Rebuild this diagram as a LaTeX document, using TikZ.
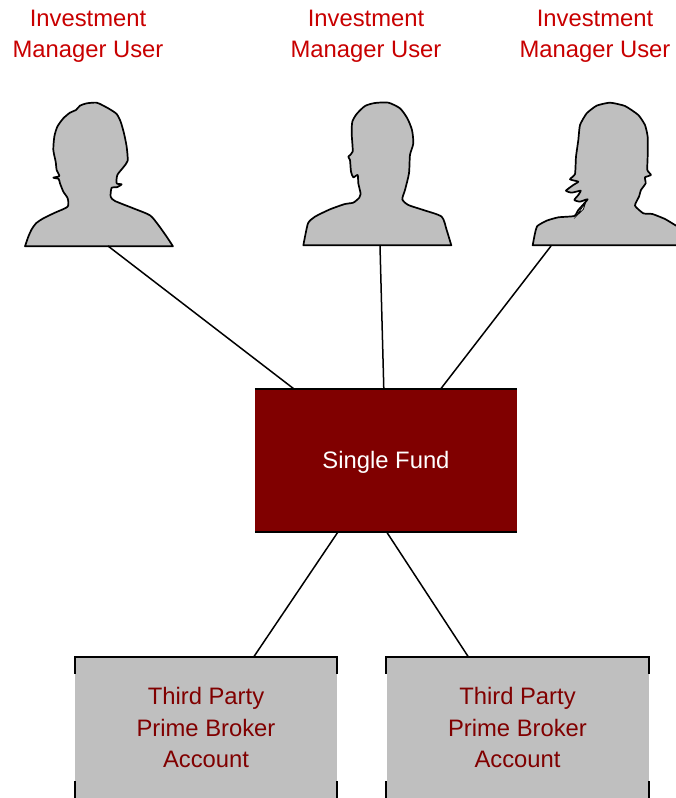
\documentclass[tikz,border=0pt]{standalone}
\usepackage{fontspec}
\setmainfont{Liberation Sans}
\usetikzlibrary{calc}
\definecolor{fundred}{HTML}{800000}
\definecolor{userred}{HTML}{C80000}
\definecolor{boxgray}{HTML}{BFBFBF}
\tikzset{
	person/.style={draw=black, fill=boxgray, line width=1.7pt, line join=round},
	link/.style={draw=black, line width=1.5pt},
	edge/.style={draw=black, line width=1.8pt},
	usertext/.style={text=userred, align=center, font=\fontsize{23.8}{31.5}\selectfont},
	fundbox/.style={fill=fundred, text=white, minimum width=262pt, minimum height=143pt, inner sep=0pt, font=\fontsize{23.8}{31.5}\selectfont},
	accountbox/.style={fill=boxgray, text=fundred, align=center, minimum width=262pt, minimum height=141pt, inner sep=0pt, font=\fontsize{23.8}{31.7}\selectfont}
}
\begin{document}
\begin{tikzpicture}[x=1pt, y=-1pt]
	\useasboundingbox (0, 0) rectangle (675, 798);

	% users
	\node[usertext] (labelA) at (88, 36.5) {Investment\\Manager User};
	\node[usertext] (labelB) at (366, 36.5) {Investment\\Manager User};
	\node[usertext] (labelC) at (595, 36.5) {Investment\\Manager User};

	\begin{scope}[shift={(0, 90)}, x=0.3333pt, y=-0.3333pt]
		\draw[person] plot[smooth, tension=0.4] coordinates {(75,469) (85,440) (95,418) (108,400) (130,385) (165,368) (203,350) (203,325) (190,305) (180,280) (176,267) (160,263) (178,258) (170,240) (167,215) (160,180) (163,140) (172,110) (190,85) (210,68) (228,60) (240,47) (260,40) (290,38) (310,47) (330,58) (350,72) (362,95) (372,130) (380,170) (383,212) (370,232) (352,255) (350,280) (365,283) (350,292) (335,293) (332,320) (345,333) (400,355) (450,376) (475,405) (500,440) (519,469)} -- cycle;
	\end{scope}
	\begin{scope}[shift={(290, 90)}, x=0.3333pt, y=-0.3333pt]
		\draw[person] plot[smooth, tension=0.4] coordinates {(40,466) (47,430) (55,398) (75,380) (120,358) (165,342) (190,338) (208,323) (212,312) (205,280) (203,255) (190,262) (183,245) (180,210) (175,200) (188,185) (185,130) (187,95) (200,72) (225,48) (255,39) (295,38) (330,55) (352,85) (366,120) (370,160) (360,195) (357,250) (345,300) (337,328) (355,345) (400,360) (455,380) (470,420) (484,466)} -- cycle;
	\end{scope}
	\begin{scope}[shift={(515, 90)}, x=0.3333pt, y=-0.3333pt]
		\draw[person] plot[smooth, tension=0.3] coordinates {(53,466) (60,430) (67,408) (95,392) (130,382) (178,378) (190,360) (218,328) (195,335) (178,330) (190,315) (197,302) (170,308) (153,302) (175,285) (190,275) (165,268) (180,252) (183,200) (190,150) (195,105) (215,70) (245,47) (285,38) (330,48) (370,75) (390,105) (398,140) (398,200) (397,240) (408,255) (390,262) (392,280) (378,300) (372,320) (360,347) (385,370) (412,372) (450,387) (480,405) (495,413)} -- (495,466) -- cycle;
		\draw[draw=black, fill=white, line width=0.8pt] (184,378) -- (212,337) -- (205,358) -- cycle;
	\end{scope}

	% connection points
	\coordinate (userA) at (108, 246);
	\coordinate (userB) at (380, 246);
	\coordinate (userC) at (551, 246);

	% fund and accounts
	\node[fundbox] (fund) at (386, 460.5) {\rule{0pt}{21.3pt}Single Fund};
	\node[accountbox] (accountA) at (206, 727.5) {Third Party\\Prime Broker\\Account};
	\node[accountbox] (accountB) at (517.5, 727.5) {Third Party\\Prime Broker\\Account};

	\draw[edge] (fund.north west) -- (fund.north east);
	\draw[edge] (fund.south west) -- (fund.south east);
	\draw[edge] ($(accountA.north west)+(0, 17)$) -- (accountA.north west) -- (accountA.north east) -- ++(0, 17);
	\draw[edge] ($(accountB.north west)+(0, 17)$) -- (accountB.north west) -- (accountB.north east) -- ++(0, 17);
	\draw[edge] (accountA.south west) -- ++(0, -17);
	\draw[edge] (accountA.south east) -- ++(0, -17);
	\draw[edge] (accountB.south west) -- ++(0, -17);
	\draw[edge] (accountB.south east) -- ++(0, -17);

	% links
	\draw[link] (userA) -- ($(fund.north west)+(39, 0)$);
	\draw[link] (userB) -- ($(fund.north west)+(129, 0)$);
	\draw[link] (userC) -- ($(fund.north west)+(186, 0)$);
	\draw[link] ($(fund.south west)+(83, 0)$) -- ($(accountA.north west)+(179, 0)$);
	\draw[link] ($(fund.south west)+(132, 0)$) -- ($(accountB.north west)+(82, 0)$);
\end{tikzpicture}
\end{document}
